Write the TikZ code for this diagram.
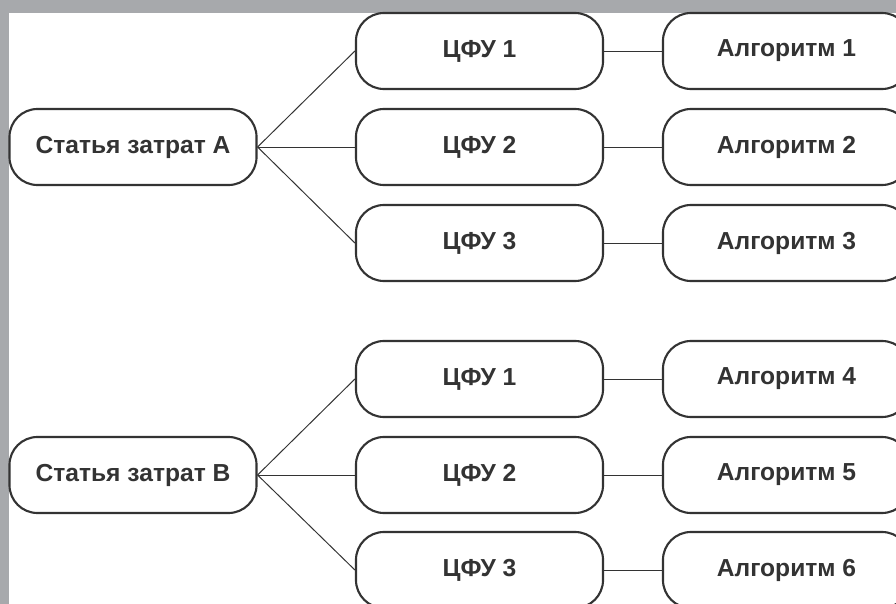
\documentclass[tikz,border=0pt]{standalone}
\usepackage{fontspec}
\setmainfont{Liberation Sans}
\usepackage{tikz}

\definecolor{framegray}{HTML}{A7A9AC}
\definecolor{ink}{HTML}{333333}

\begin{document}
\begin{tikzpicture}[x=0.025cm, y=-0.025cm,
    box/.style={draw=ink, fill=white, line width=1.5pt, rounded corners=0.7cm,
        minimum width=6.175cm, minimum height=1.9cm, inner sep=0pt,
        text=ink, font=\fontsize{17.5}{21}\selectfont\bfseries},
    link/.style={ink, line width=0.7pt}]
                    \clip (0,0) rectangle (896,604);
                    % Frame
                    \fill[white] (0,0) rectangle (896,604);
                    \fill[framegray] (0,0) rectangle (896,13);
                    \fill[framegray] (0,0) rectangle (9,604);
                    % Nodes
                    \node[box] (costA) at (133,147) {Статья затрат А};
                    \node[box] (cfuA1) at (479.5,51) {ЦФУ 1};
                    \node[box] (cfuA2) at (479.5,147) {ЦФУ 2};
                    \node[box] (cfuA3) at (479.5,243) {ЦФУ 3};
                    \node[box] (alg1) at (786.5,51) {Алгоритм 1};
                    \node[box] (alg2) at (786.5,147) {Алгоритм 2};
                    \node[box] (alg3) at (786.5,243) {Алгоритм 3};
                    \node[box] (costB) at (133,475) {Статья затрат В};
                    \node[box] (cfuB1) at (479.5,379) {ЦФУ 1};
                    \node[box] (cfuB2) at (479.5,475) {ЦФУ 2};
                    \node[box] (cfuB3) at (479.5,570) {ЦФУ 3};
                    \node[box] (alg4) at (786.5,379) {Алгоритм 4};
                    \node[box] (alg5) at (786.5,475) {Алгоритм 5};
                    \node[box] (alg6) at (786.5,570) {Алгоритм 6};
                    % Edges
                    \draw[link] (costA.east) -- (cfuA1.west);
                    \draw[link] (costA.east) -- (cfuA2.west);
                    \draw[link] (costA.east) -- (cfuA3.west);
                    \draw[link] (cfuA1) -- (alg1);
                    \draw[link] (cfuA2) -- (alg2);
                    \draw[link] (cfuA3) -- (alg3);
                    \draw[link] (costB.east) -- (cfuB1.west);
                    \draw[link] (costB.east) -- (cfuB2.west);
                    \draw[link] (costB.east) -- (cfuB3.west);
                    \draw[link] (cfuB1) -- (alg4);
                    \draw[link] (cfuB2) -- (alg5);
                    \draw[link] (cfuB3) -- (alg6);
                \end{tikzpicture}
\end{document}
